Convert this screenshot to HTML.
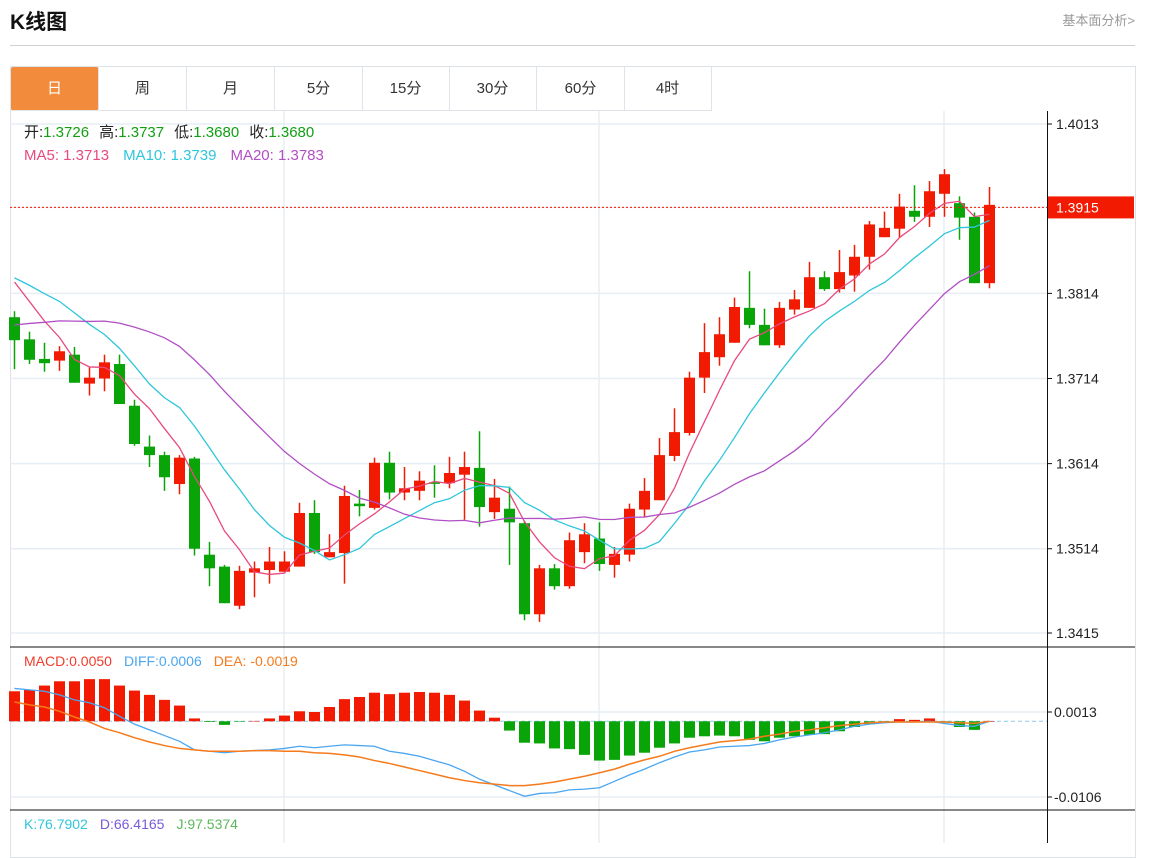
<!DOCTYPE html>
<html><head><meta charset="utf-8">
<style>
body{margin:0;width:1157px;height:843px;overflow:hidden;background:#fff;font-family:"Liberation Sans","Noto Sans CJK SC",sans-serif;position:relative}
#title{position:absolute;left:10px;top:6px;font-size:21px;font-weight:bold;color:#111}
#more{position:absolute;right:22px;top:10px;font-size:13px;color:#999}
#sep{position:absolute;left:10px;top:45px;width:1125px;height:1px;background:#d0d0d0}
#box{position:absolute;left:10px;top:66px;width:1124px;height:790px;border:1px solid #dde2e6}
.tab{position:absolute;top:67px;height:43px;width:87px;line-height:43px;text-align:center;font-size:15px;color:#333;border-right:1px solid #e0e4e8;border-bottom:1px solid #e0e4e8}
.tab.on{background:#f28c3c;color:#fff;border-radius:2px}
svg{position:absolute;left:0;top:0}
</style></head><body>
<div id="title">K线图</div>
<div id="more">基本面分析&gt;</div>
<div id="sep"></div>
<div id="box"></div>
<div class="tab on" style="left:11px">日</div>
<div class="tab" style="left:99px">周</div>
<div class="tab" style="left:187px">月</div>
<div class="tab" style="left:275px">5分</div>
<div class="tab" style="left:362px">15分</div>
<div class="tab" style="left:449px">30分</div>
<div class="tab" style="left:537px">60分</div>
<div class="tab" style="left:624px">4时</div>
<svg id="chart" width="1157" height="843"></svg>
<script>
const history=[1.3700,1.3706,1.3712,1.3715,1.3722,1.3726,1.3730,1.3733,1.3736,1.3736,1.3824,1.3830,1.3836,1.3844,1.3851,1.3851,1.3847,1.3842,1.3838];
const opens=[1.3786,1.3760,1.3737,1.3735,1.3742,1.3708,1.3714,1.3731,1.3682,1.3634,1.3624,1.3590,1.3620,1.3507,1.3493,1.3447,1.3486,1.3489,1.3487,1.3493,1.3556,1.3504,1.3509,1.3567,1.3562,1.3615,1.3580,1.3582,1.3592,1.3591,1.3601,1.3609,1.3557,1.3561,1.3544,1.3437,1.3491,1.3470,1.3510,1.3526,1.3495,1.3507,1.3560,1.3571,1.3623,1.3650,1.3715,1.3739,1.3756,1.3797,1.3777,1.3753,1.3795,1.3797,1.3833,1.3819,1.3835,1.3857,1.3880,1.3890,1.3911,1.3904,1.3931,1.3920,1.3904,1.3826];
const closes=[1.3759,1.3736,1.3732,1.3746,1.3709,1.3715,1.3733,1.3684,1.3637,1.3624,1.3598,1.3621,1.3514,1.3491,1.3450,1.3488,1.3491,1.3499,1.3499,1.3556,1.3510,1.3510,1.3576,1.3564,1.3615,1.3580,1.3585,1.3594,1.3591,1.3603,1.3610,1.3563,1.3574,1.3545,1.3437,1.3491,1.3470,1.3524,1.3531,1.3496,1.3508,1.3561,1.3582,1.3624,1.3651,1.3715,1.3745,1.3766,1.3798,1.3777,1.3753,1.3797,1.3807,1.3833,1.3819,1.3839,1.3857,1.3895,1.3891,1.3916,1.3904,1.3934,1.3954,1.3903,1.3826,1.3918];
const highs=[1.3793,1.3769,1.3756,1.3752,1.3751,1.3728,1.3742,1.3742,1.3689,1.3647,1.3628,1.3624,1.3622,1.3522,1.3495,1.3494,1.3499,1.3516,1.3511,1.3568,1.3571,1.3531,1.3588,1.3583,1.3621,1.3628,1.3610,1.3605,1.3612,1.3622,1.3628,1.3652,1.3596,1.3587,1.3547,1.3495,1.3496,1.3533,1.3544,1.3545,1.3516,1.3567,1.3597,1.3644,1.3679,1.3722,1.3779,1.3786,1.3809,1.3840,1.3796,1.3804,1.3818,1.3851,1.3840,1.3865,1.3871,1.3899,1.3910,1.3931,1.3941,1.3946,1.3960,1.3928,1.3909,1.3939];
const lows=[1.3725,1.3731,1.3722,1.3723,1.3709,1.3694,1.3699,1.3684,1.3635,1.3610,1.3582,1.3578,1.3506,1.3470,1.3450,1.3443,1.3457,1.3473,1.3487,1.3493,1.3508,1.3504,1.3473,1.3552,1.3560,1.3572,1.3571,1.3571,1.3574,1.3585,1.3548,1.3540,1.3549,1.3495,1.3430,1.3428,1.3466,1.3467,1.3497,1.3488,1.3480,1.3499,1.3551,1.3571,1.3617,1.3647,1.3697,1.3729,1.3756,1.3773,1.3753,1.3750,1.3789,1.3797,1.3817,1.3815,1.3816,1.3842,1.3880,1.3879,1.3898,1.3892,1.3904,1.3877,1.3826,1.3820];
const macdHist=[0.0042,0.0044,0.0050,0.0056,0.0056,0.0059,0.0059,0.0050,0.0043,0.0037,0.0030,0.0022,0.0004,-0.0001,-0.0005,-0.00005,0.00005,0.0004,0.0008,0.0014,0.0013,0.0020,0.0031,0.0034,0.0040,0.0038,0.0040,0.0041,0.0040,0.0037,0.0029,0.0015,0.0005,-0.0013,-0.0030,-0.0031,-0.0038,-0.0039,-0.0047,-0.0055,-0.0054,-0.0048,-0.0044,-0.0037,-0.0031,-0.0023,-0.0021,-0.0020,-0.0021,-0.0026,-0.0028,-0.0023,-0.0021,-0.0019,-0.0018,-0.0014,-0.0008,-0.0004,-0.0002,0.0003,0.0002,0.0004,-0.00005,-0.0008,-0.0012,0];
const diffVals=[0.0046,0.0044,0.0042,0.0037,0.0030,0.0026,0.0019,0.0007,-0.0004,-0.0012,-0.0020,-0.0028,-0.0040,-0.0042,-0.0044,-0.0042,-0.0041,-0.0040,-0.0038,-0.0035,-0.0037,-0.0035,-0.0033,-0.0034,-0.0035,-0.0042,-0.0045,-0.0049,-0.0055,-0.0061,-0.0070,-0.0081,-0.0089,-0.0097,-0.0105,-0.0101,-0.0100,-0.0096,-0.0095,-0.0093,-0.0084,-0.0075,-0.0067,-0.0058,-0.0050,-0.0043,-0.0040,-0.0036,-0.0035,-0.0034,-0.0031,-0.0026,-0.0022,-0.0019,-0.0016,-0.0012,-0.0007,-0.0004,-0.0002,-0.0001,-0.0001,0.0000,-0.0003,-0.0006,-0.0007,0];
const deaVals=[0.0027,0.0023,0.0020,0.0014,0.0006,-0.0001,-0.0010,-0.0016,-0.0023,-0.0029,-0.0034,-0.0038,-0.0040,-0.0042,-0.0042,-0.0042,-0.0041,-0.0041,-0.0042,-0.0042,-0.0044,-0.0045,-0.0047,-0.0050,-0.0055,-0.0059,-0.0064,-0.0069,-0.0074,-0.0079,-0.0083,-0.0086,-0.0088,-0.0090,-0.0090,-0.0088,-0.0085,-0.0081,-0.0077,-0.0072,-0.0067,-0.0060,-0.0054,-0.0049,-0.0042,-0.0037,-0.0033,-0.0029,-0.0027,-0.0025,-0.0021,-0.0018,-0.0014,-0.0012,-0.0009,-0.0006,-0.0004,-0.0002,-0.0001,-0.0001,-0.0001,-0.0001,-0.0001,-0.0002,-0.0003,0];
const priceTicks=[1.4013,1.3915,1.3814,1.3714,1.3614,1.3514,1.3415];
const macdTicks=[0.0013,-0.0106];
const lastPrice=1.3915;

const NS="http://www.w3.org/2000/svg";
const svg=document.getElementById('chart');
function mk(tag,attrs,parent){const e=document.createElementNS(NS,tag);for(const k in attrs)e.setAttribute(k,attrs[k]);(parent||svg).appendChild(e);return e;}
const X0=14.5,DX=15;
function xAt(i){return X0+i*DX;}
function yP(p){return 124+(1.4013-p)*(509/0.0598);}
function yM(v){return 712+(0.0013-v)*(85/0.0119);}
const RED='#f21a00',GREEN='#08a408';

// grid
[284,599,944].forEach(x=>{const l=mk('line',{x1:x,y1:111,x2:x,y2:843,stroke:'#e6edf3','stroke-width':1.5});

});
priceTicks.forEach(t=>{const l=mk('line',{x1:10,y1:yP(t),x2:1047,y2:yP(t),stroke:'#e6edf3','stroke-width':1.5});

});
macdTicks.forEach(t=>{const l=mk('line',{x1:10,y1:yM(t),x2:1047,y2:yM(t),stroke:'#e6edf3','stroke-width':1.5});

});
// panel borders
[647,810].forEach(y=>{const l=mk('line',{x1:10,y1:y,x2:1135,y2:y,stroke:'#111','stroke-width':1});

});
const ax=mk('line',{x1:1047.5,y1:111,x2:1047.5,y2:843,stroke:'#111','stroke-width':1});



// price axis labels
priceTicks.forEach(t=>{
 const tk=mk('line',{x1:1047,y1:yP(t),x2:1052,y2:yP(t),stroke:'#111'});
 
 
 if(t===lastPrice)return;
 const tx=mk('text',{x:1056,y:yP(t)+5,'font-size':14,fill:'#222'});tx.textContent=t.toFixed(4);
 
 
});
macdTicks.forEach(t=>{
 const tk=mk('line',{x1:1047,y1:yM(t),x2:1052,y2:yM(t),stroke:'#111'});
 
 
 const tx=mk('text',{x:1054,y:yM(t)+5,'font-size':14,fill:'#222'});tx.textContent=(t<0?'-':' ')+Math.abs(t).toFixed(4);
 
 
});

// candles
for(let i=0;i<opens.length;i++){
 const up=closes[i]>=opens[i];const c=up?RED:GREEN;const x=xAt(i);
 const g=mk('g',{});
 
 
 mk('line',{x1:x,y1:yP(highs[i]),x2:x,y2:yP(lows[i]),stroke:c,'stroke-width':1.5},g);
 const top=yP(Math.max(opens[i],closes[i])),bot=yP(Math.min(opens[i],closes[i]));
 mk('rect',{x:x-5.5,y:top,width:11,height:Math.max(1.5,bot-top),fill:c},g);
}
// moving averages
const all=history.concat(closes);
function ma(n){const out=[];for(let i=0;i<closes.length;i++){const j=i+history.length;let s=0;for(let k=j-n+1;k<=j;k++)s+=all[k];out.push(s/n);}return out;}
[[5,'#e8497e','ma5-line'],[10,'#2fc6da','ma10-line'],[20,'#b14fc4','ma20-line']].forEach(([n,col,name])=>{
 const v=ma(n);const p=mk('polyline',{points:v.map((m,i)=>xAt(i)+','+yP(m)).join(' '),fill:'none',stroke:col,'stroke-width':1.3});
 
 
});
// last price line & label
const lp=mk('line',{x1:10,y1:yP(lastPrice),x2:1047,y2:yP(lastPrice),stroke:'#f21a00','stroke-dasharray':'2,2','stroke-width':1});


const lb=mk('rect',{x:1048,y:yP(lastPrice)-11,width:86,height:22,fill:'#f21a00'});


const lt=mk('text',{x:1056,y:yP(lastPrice)+5,'font-size':14,fill:'#fff'});lt.textContent='1.3915';



// MACD
const zd=mk('line',{x1:10,y1:yM(0),x2:1047,y2:yM(0),stroke:'#8ec9ea','stroke-dasharray':'4,3'});


macdHist.forEach((v,i)=>{
 const y0=yM(0),y1=yM(v);const r=mk('rect',{x:xAt(i)-5.5,y:Math.min(y0,y1),width:11,height:Math.max(0.5,Math.abs(y1-y0)),fill:v>=0?RED:GREEN});
 
 
});
const dl=mk('polyline',{points:diffVals.map((v,i)=>xAt(i)+','+yM(v)).join(' '),fill:'none',stroke:'#4ba6f0','stroke-width':1.3});


const el=mk('polyline',{points:deaVals.map((v,i)=>xAt(i)+','+yM(v)).join(' '),fill:'none',stroke:'#f57a1c','stroke-width':1.5});



// legends
function legend(y,items,name,size){
 const t=mk('text',{x:24,y:y,'font-size':size});
 
 
 items.forEach(([s,c,dx])=>{const sp=mk('tspan',{fill:c},t);if(dx)sp.setAttribute('dx',dx);sp.textContent=s;});
}
legend(137,[['开:','#222'],['1.3726','#12a012'],['高:','#222',10],['1.3737','#12a012'],['低:','#222',10],['1.3680','#12a012'],['收:','#222',10],['1.3680','#12a012']],'ohlc-legend',15);
legend(160,[['MA5:  1.3713','#e8497e'],['MA10:  1.3739','#2fc6da',14],['MA20:  1.3783','#b14fc4',14]],'ma-legend',15);
legend(666,[['MACD:0.0050','#f03c2c'],['DIFF:0.0006','#4ba6f0',12],['DEA: -0.0019','#f57a1c',12]],'macd-legend',14);
legend(829,[['K:76.7902','#2fc6da'],['D:66.4165','#7a5ad8',12],['J:97.5374','#5cb85c',12]],'kdj-legend',14);
</script>
</body></html>
